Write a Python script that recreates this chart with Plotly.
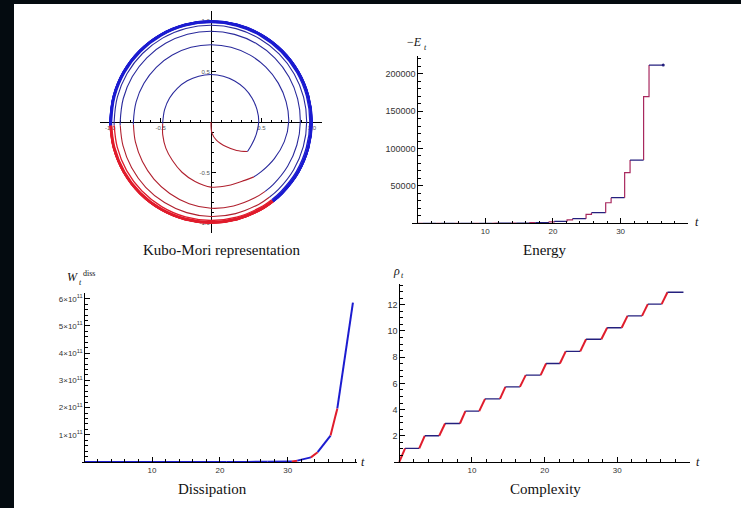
import plotly.graph_objects as go

# browser page 741x508; the white figure sits inside a dark frame (14 px left, 4 px top)
PAGE_W, PAGE_H = 741, 508
OFF_X, OFF_Y = 14, 4
W, H = PAGE_W - OFF_X, PAGE_H - OFF_Y

# ---------------- data ----------------
# Kubo-Mori spiral, polar samples (theta in degrees, radius)
# red = active phase, blue = free rotation
km_red0_theta = [-90, -85, -73, -58, -48, -39]
km_red0_r = [0.0, 0.11, 0.19, 0.29, 0.38, 0.465]

km_blue0_theta = [-39, -30, -15, 0, 15, 30, 45, 60, 75, 90, 105, 120, 135, 150, 165, 180, 182]
km_blue0_r = [0.465, 0.462, 0.465, 0.473, 0.472, 0.471, 0.471, 0.470, 0.470, 0.470, 0.470,
              0.471, 0.472, 0.474, 0.476, 0.478, 0.479]

km_blue_theta = [-52, -45, -30, -15, 0, 15, 30, 45, 60, 75, 90, 105, 120, 135, 150, 165, 180, 182]
km_blue_r = [
    [0.690, 0.700, 0.725, 0.752, 0.770, 0.771, 0.770, 0.769, 0.768, 0.767, 0.766, 0.766, 0.766, 0.767, 0.767, 0.768, 0.769, 0.769],
    [0.872, 0.874, 0.877, 0.881, 0.885, 0.889, 0.893, 0.896, 0.898, 0.899, 0.900, 0.900, 0.900, 0.900, 0.900, 0.900, 0.900, 0.900],
    [0.944, 0.945, 0.946, 0.947, 0.948, 0.950, 0.952, 0.954, 0.956, 0.958, 0.959, 0.960, 0.960, 0.960, 0.960, 0.960, 0.960, 0.960],
    [0.977, 0.977, 0.978, 0.978, 0.979, 0.980, 0.981, 0.982, 0.983, 0.984, 0.984, 0.985, 0.985, 0.985, 0.985, 0.985, 0.985, 0.985],
    [0.987, 0.987, 0.988, 0.988, 0.988, 0.989, 0.989, 0.989, 0.990, 0.990, 0.990, 0.990, 0.990, 0.990, 0.990, 0.990, 0.990, 0.990],
    [0.992, 0.992, 0.992, 0.993, 0.993, 0.993, 0.993, 0.993, 0.993, 0.994, 0.994, 0.994, 0.994, 0.994, 0.994, 0.994, 0.994, 0.994],
    [0.995, 0.995, 0.995, 0.995, 0.996, 0.996, 0.996, 0.996, 0.996, 0.996, 0.996, 0.996, 0.996, 0.996, 0.996, 0.996, 0.996, 0.996],
    [0.997, 0.997, 0.997, 0.997, 0.998, 0.998, 0.998, 0.998, 0.998, 0.998, 0.998, 0.998, 0.998, 0.998, 0.998, 0.998, 0.998, 0.998],
    [0.999, 0.999, 0.999, 0.999, 0.999, 0.999, 0.999, 0.999, 0.999, 0.999, 0.999, 0.999, 0.999, 0.999, 0.999, 0.999, 0.999, 0.999],
    [1.000, 1.000, 1.000, 1.000, 1.000, 1.000, 1.000, 1.000, 1.000, 1.000, 1.000, 1.000, 1.000, 1.000, 1.000, 1.000, 1.000, 1.000],
    [1.001, 1.001, 1.001, 1.001, 1.001, 1.001, 1.001, 1.001, 1.001, 1.001, 1.001, 1.001, 1.001, 1.001, 1.001, 1.001, 1.001, 1.001],
    [1.002, 1.002, 1.002, 1.002, 1.002, 1.002, 1.002, 1.002, 1.002, 1.002, 1.002, 1.002, 1.002, 1.002, 1.002, 1.002, 1.002, 1.002],
    [1.003, 1.003, 1.003, 1.003, 1.003, 1.003, 1.003, 1.003, 1.003, 1.003, 1.003, 1.003, 1.003, 1.003, 1.003, 1.003, 1.003, 1.003],
]
km_red_theta = [182, 195, 210, 225, 240, 255, 270, 285, 300, 308]
km_red_r = [
    [0.479, 0.495, 0.517, 0.540, 0.575, 0.610, 0.645, 0.652, 0.668, 0.690],
    [0.769, 0.775, 0.785, 0.800, 0.818, 0.838, 0.855, 0.862, 0.868, 0.872],
    [0.900, 0.903, 0.908, 0.915, 0.922, 0.930, 0.937, 0.940, 0.943, 0.944],
    [0.960, 0.962, 0.965, 0.968, 0.971, 0.974, 0.976, 0.977, 0.977, 0.977],
    [0.985, 0.986, 0.986, 0.987, 0.987, 0.987, 0.987, 0.987, 0.987, 0.987],
    [0.990, 0.990, 0.991, 0.991, 0.991, 0.992, 0.992, 0.992, 0.992, 0.992],
    [0.994, 0.994, 0.994, 0.994, 0.995, 0.995, 0.995, 0.995, 0.995, 0.995],
    [0.996, 0.996, 0.996, 0.997, 0.997, 0.997, 0.997, 0.997, 0.997, 0.997],
    [0.998, 0.998, 0.998, 0.998, 0.999, 0.999, 0.999, 0.999, 0.999, 0.999],
    [0.999, 0.999, 1.000, 1.000, 1.000, 1.000, 1.000, 1.000, 1.000, 1.000],
    [1.000, 1.000, 1.000, 1.001, 1.001, 1.001, 1.001, 1.001, 1.001, 1.001],
    [1.001, 1.001, 1.001, 1.002, 1.002, 1.002, 1.002, 1.002, 1.002, 1.002],
    [1.002, 1.002, 1.002, 1.003, 1.003, 1.003, 1.003, 1.003, 1.003, 1.003],
]

# shared timing of the red (active) phases
rise_start = [0.0, 2.75, 5.5, 8.35, 11.0, 13.85, 16.6, 19.45, 22.1, 24.9, 27.8, 30.6, 33.4, 36.1]
rise_end = [0.8, 3.5, 6.3, 9.1, 11.8, 14.6, 17.4, 20.2, 22.9, 25.7, 28.6, 31.4, 34.2, 36.9]

# Complexity levels after each rise
cx_level = [1.04, 2.0, 2.94, 3.88, 4.82, 5.73, 6.63, 7.52, 8.44, 9.37, 10.25, 11.15, 12.05, 12.96]
cx_end_t = 39.1

# Energy (-E_t): intermediate and final level of each rise
en_mid = [3, 8, 20, 50, 128, 320, 800, 2000, 4600, 12000, 27500, 67700, 169300]
en_level = [4, 10, 26, 64, 160, 400, 1000, 2500, 6200, 14200, 34200, 84600, 211600]
en_end_t = 36.3

# Dissipation W_t^diss (units of 1e11)
ds_t = [0, 21, 24, 27, 30.6, 31.4, 33.4, 34.4, 36.3, 37.3, 39.6]
ds_v = [0, 0.001, 0.003, 0.008, 0.02, 0.05, 0.17, 0.36, 0.97, 1.97, 5.86]
ds_col = ["b", "b", "b", "b", "r", "b", "r", "b", "r", "b"]

BLUE_THIN = "#2a2a9c"
RED_THIN = "#b0202e"
BLUE = "#1c1cd0"
RED = "#e01c2c"
NAVY = "#24207e"
PURP = "#a8285e"

fig = go.Figure()

# ---------------- Kubo-Mori (polar overlay) ----------------
def km_trace(theta, r, color, width):
    fig.add_trace(go.Scatterpolar(theta=theta, r=r, mode="lines", subplot="polar",
                                  line=dict(color=color, width=width, shape="spline", smoothing=1.0),
                                  hoverinfo="skip", showlegend=False))

km_trace(km_red0_theta, km_red0_r, RED_THIN, 1.1)
km_trace(km_blue0_theta, km_blue0_r, BLUE_THIN, 1.1)
for i in range(len(km_red_r)):
    outer = i >= 3
    km_trace(km_red_theta, km_red_r[i], RED if outer else RED_THIN, 1.3 if outer else 1.1)
    km_trace(km_blue_theta, km_blue_r[i], BLUE if outer else BLUE_THIN, 1.3 if outer else 1.1)

fig.add_trace(go.Scatter(x=[], y=[], xaxis="x4", yaxis="y4", showlegend=False))

# ---------------- Energy ----------------
prev = 0
for k in range(len(en_level)):
    t0, t1 = rise_start[k], rise_end[k]
    fig.add_trace(go.Scatter(x=[t0, t0, t1, t1], y=[prev, en_mid[k], en_mid[k], en_level[k]],
                             mode="lines", line=dict(color=PURP, width=1.2),
                             xaxis="x2", yaxis="y2", showlegend=False, hoverinfo="skip"))
    t2 = rise_start[k + 1] if k + 1 < len(en_level) else en_end_t
    fig.add_trace(go.Scatter(x=[t1, t2], y=[en_level[k], en_level[k]],
                             mode="lines", line=dict(color=NAVY, width=1.2),
                             xaxis="x2", yaxis="y2", showlegend=False, hoverinfo="skip"))
    prev = en_level[k]
fig.add_trace(go.Scatter(x=[en_end_t], y=[en_level[-1]], mode="markers",
                         marker=dict(color=NAVY, size=3), xaxis="x2", yaxis="y2",
                         showlegend=False, hoverinfo="skip"))

# ---------------- Dissipation ----------------
for i in range(len(ds_col)):
    fig.add_trace(go.Scatter(x=ds_t[i:i + 2], y=[v * 1e11 for v in ds_v[i:i + 2]], mode="lines",
                             line=dict(color=RED if ds_col[i] == "r" else BLUE, width=2),
                             xaxis="x3", yaxis="y3", showlegend=False, hoverinfo="skip"))

# ---------------- Complexity ----------------
prev = 0
for k in range(len(cx_level)):
    t0, t1 = rise_start[k], rise_end[k]
    fig.add_trace(go.Scatter(x=[t0, t1], y=[prev, cx_level[k]], mode="lines",
                             line=dict(color=RED, width=2), xaxis="x", yaxis="y",
                             showlegend=False, hoverinfo="skip"))
    t2 = rise_start[k + 1] if k + 1 < len(cx_level) else cx_end_t
    fig.add_trace(go.Scatter(x=[t1, t2], y=[cx_level[k], cx_level[k]], mode="lines",
                             line=dict(color=NAVY, width=1.4), xaxis="x", yaxis="y",
                             showlegend=False, hoverinfo="skip"))
    prev = cx_level[k]

# ---------------- layout helpers (positions given in page pixels) ----------------
TICKFONT = dict(family="Liberation Sans, Arial, sans-serif", size=9, color="#333333")
TICKFONT_S = dict(family="Liberation Sans, Arial, sans-serif", size=8, color="#333333")


def px_dom_x(a, b):
    return [(a - OFF_X) / W, (b - OFF_X) / W]


def px_dom_y(top, bottom):
    return [1 - (bottom - OFF_Y) / H, 1 - (top - OFF_Y) / H]


def ax(dom, rng, tickvals, ticktext, minor_dtick, anchor, position=None, ticklen=5, font=TICKFONT):
    d = dict(domain=dom, range=rng, showgrid=False, zeroline=False, showline=True,
             linecolor="black", linewidth=1, ticks="inside", ticklen=ticklen, tickwidth=1,
             tickcolor="black", tickmode="array", tickvals=tickvals, ticktext=ticktext,
             tickfont=font, fixedrange=True,
             minor=dict(ticks="inside", ticklen=ticklen * 0.55, tickwidth=0.8, tickcolor="black",
                        dtick=minor_dtick, tick0=0, showgrid=False),
             anchor=anchor)
    if position is not None:
        d["position"] = position
    return d


def zero_pos(dom, rng):
    return dom[0] + (0 - rng[0]) / (rng[1] - rng[0]) * (dom[1] - dom[0])

# Kubo-Mori cartesian cross axes
km_xd = px_dom_x(100, 322)
km_yd = px_dom_y(11, 233)
km_rng = [-1.1, 1.1]
KMFONT = dict(family="Liberation Sans, Arial, sans-serif", size=6, color="#555555")
km_vals = [-1.0, -0.5, 0.5, 1.0]
km_txt = ["-1.0", "-0.5", "0.5", "1.0"]

# Energy
en_xd = px_dom_x(411.7, 688.3)
en_xr = [-0.85, 40]
en_yd = px_dom_y(56, 223.3)
en_yr = [0, 223700]

# Dissipation
ds_xd = px_dom_x(81.5, 357)
ds_xr = [-0.4, 40.2]
ds_yd = px_dom_y(293.3, 462)
ds_yr = [0, 6.2e11]

# Complexity
cx_xd = px_dom_x(394.4, 690)
cx_xr = [-0.67, 40]
cx_yd = px_dom_y(283.8, 462)
cx_yr = [0, 13.6]

layout = dict(
    width=W, height=H, margin=dict(l=0, r=0, t=0, b=0),
    paper_bgcolor="white", plot_bgcolor="rgba(0,0,0,0)", showlegend=False,
    polar=dict(domain=dict(x=km_xd, y=km_yd), bgcolor="rgba(0,0,0,0)",
               radialaxis=dict(visible=False, range=[0, 1.1], showticklabels=False,
                               showgrid=False, showline=False, ticks=""),
               angularaxis=dict(visible=False, rotation=0, direction="counterclockwise",
                                showticklabels=False, showgrid=False, showline=False, ticks="")),
    xaxis4=ax(km_xd, km_rng, km_vals, km_txt, 0.1, "free", zero_pos(km_yd, km_rng), 4, KMFONT),
    yaxis4=ax(km_yd, km_rng, km_vals, km_txt, 0.1, "free", zero_pos(km_xd, km_rng), 4, KMFONT),
    xaxis2=ax(en_xd, en_xr, [10, 20, 30], ["10", "20", "30"], 2, "y2", font=TICKFONT_S),
    yaxis2=ax(en_yd, en_yr, [50000, 100000, 150000, 200000],
              ["50000", "100000", "150000", "200000"], 10000, "free", zero_pos(en_xd, en_xr)),
    xaxis3=ax(ds_xd, ds_xr, [10, 20, 30], ["10", "20", "30"], 2, "y3", font=TICKFONT_S),
    yaxis3=ax(ds_yd, ds_yr, [1e11, 2e11, 3e11, 4e11, 5e11, 6e11],
              ["%d\u00d710<sup>11</sup>" % i for i in range(1, 7)], 2e10, "free",
              zero_pos(ds_xd, ds_xr), font=TICKFONT_S),
    xaxis=ax(cx_xd, cx_xr, [10, 20, 30], ["10", "20", "30"], 2, "y", font=TICKFONT_S),
    yaxis=ax(cx_yd, cx_yr, [2, 4, 6, 8, 10, 12], ["2", "4", "6", "8", "10", "12"], 0.5, "free",
             zero_pos(cx_xd, cx_xr)),
)
fig.update_layout(**layout)

SERIF = "Liberation Serif, DejaVu Serif, serif"


def label(text, x, y, size=12, xanchor="center"):
    fig.add_annotation(text=text, x=(x - OFF_X) / W, y=1 - (y - OFF_Y) / H,
                       xref="paper", yref="paper",
                       showarrow=False, xanchor=xanchor, yanchor="middle",
                       font=dict(family=SERIF, size=size, color="#111111"))

label("Kubo-Mori representation", 222, 250, 15)
label("Energy", 545, 250, 15)
label("Dissipation", 212, 489, 15)
label("Complexity", 545, 489, 15)

label("\u2212<i>E</i>", 414, 42, 12)
label("<i>t</i>", 425, 47, 8)
label("<i>t</i>", 697, 222, 12)
label("<i>W</i>", 72.5, 277, 12)
label("diss", 88.5, 273.5, 8)
label("<i>t</i>", 80, 282, 8)
label("<i>t</i>", 363, 462, 12)
label("<i>\u03c1</i>", 396, 271, 12)
label("<i>t</i>", 402, 275, 8)
label("<i>t</i>", 698, 462, 12)

page_css = ("document.documentElement.style.background='#040b10';"
            "document.body.style.background='#040b10';"
            "document.body.style.margin='%dpx 0 0 %dpx';"
            "document.body.style.overflow='hidden';" % (OFF_Y, OFF_X))

fig.write_html("out.html", config={"displayModeBar": False}, post_script=page_css)
